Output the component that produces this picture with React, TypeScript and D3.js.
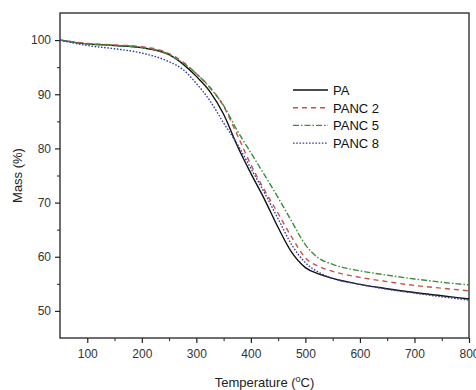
import React, { useEffect, useRef } from 'react'
import { select, scaleLinear, line, curveMonotoneX, axisLeft, axisBottom, range } from 'd3'

// temperatures (°C) sampled along the TGA curves
const temps = [50, 100, 150, 200, 250, 275, 300, 325, 350, 375, 400, 425, 450, 475, 500, 525, 550, 600, 650, 700, 750, 800]

const massPA = [100, 99.3, 99.0, 98.6, 97.3, 95.6, 93.3, 90.5, 86.3, 80.5, 75.4, 70.6, 65.4, 60.8, 58.0, 56.8, 56.0, 54.9, 54.1, 53.4, 52.8, 52.2]
const massPANC2 = [100, 99.4, 99.1, 98.8, 97.5, 96.0, 93.8, 91.3, 87.8, 82.5, 77.0, 72.3, 68.0, 63.6, 59.8, 58.2, 57.3, 56.2, 55.4, 54.7, 54.2, 53.7]
const massPANC5 = [100, 99.3, 99.0, 98.6, 97.3, 95.8, 93.8, 91.2, 87.9, 83.3, 79.2, 75.1, 70.9, 66.5, 62.2, 59.7, 58.6, 57.4, 56.6, 55.9, 55.3, 54.8]
const massPANC8 = [100, 99.0, 98.4, 97.6, 96.0, 94.6, 92.0, 88.8, 84.7, 80.8, 76.3, 71.8, 67.0, 62.2, 58.9, 57.1, 56.0, 54.9, 54.0, 53.3, 52.6, 52.0]

const seriesNames = ['PA', 'PANC 2', 'PANC 5', 'PANC 8']
const seriesValues = [massPA, massPANC2, massPANC5, massPANC8]

const xTicks = [100, 200, 300, 400, 500, 600, 700, 800]
const yTicks = [50, 60, 70, 80, 90, 100]

const styles = [
    { color: '#111111', dash: null },
    { color: '#c8504e', dash: '5,4' },
    { color: '#3c8c3c', dash: '6,2,1.5,2' },
    { color: '#3a3f9e', dash: '1.6,1.6' },
]

const W = 476
const H = 390
const margin = { top: 13, right: 7, bottom: 52, left: 60 }

const App = () => {
    const svgRef = useRef<SVGSVGElement>(null)

    useEffect(() => {
        const svg = select(svgRef.current)
        svg.selectAll('*').remove()

        const x0 = margin.left
        const x1 = W - margin.right
        const y0 = H - margin.bottom
        const y1 = margin.top

        const xScale = scaleLinear().domain([50, 800]).range([x0, x1])
        const yScale = scaleLinear().domain([45, 105]).range([y0, y1])

        const tickFont = '12px "Liberation Sans", Arial, sans-serif'

        // minor ticks
        svg.append('g')
            .attr('transform', `translate(0, ${y0})`)
            .call(axisBottom(xScale).tickValues(range(150, 800, 100)).tickSize(3).tickFormat(() => ''))
            .call(g => g.select('.domain').remove())
            .selectAll('line').attr('stroke', '#222')
        svg.append('g')
            .attr('transform', `translate(${x0}, 0)`)
            .call(axisLeft(yScale).tickValues(range(55, 100, 10)).tickSize(3).tickFormat(() => ''))
            .call(g => g.select('.domain').remove())
            .selectAll('line').attr('stroke', '#222')

        // major ticks
        const xAxisG = svg.append('g')
            .attr('transform', `translate(0, ${y0})`)
            .call(axisBottom(xScale).tickValues(xTicks).tickSize(5).tickPadding(6))
        xAxisG.select('.domain').remove()
        xAxisG.selectAll('line').attr('stroke', '#222').attr('stroke-width', 1.2)
        xAxisG.selectAll('text').style('font', tickFont).attr('fill', '#333')

        const yAxisG = svg.append('g')
            .attr('transform', `translate(${x0}, 0)`)
            .call(axisLeft(yScale).tickValues(yTicks).tickSize(5).tickPadding(4))
        yAxisG.select('.domain').remove()
        yAxisG.selectAll('line').attr('stroke', '#222').attr('stroke-width', 1.2)
        yAxisG.selectAll('text').style('font', tickFont).attr('fill', '#333')

        // frame
        svg.append('rect')
            .attr('x', x0).attr('y', y1)
            .attr('width', x1 - x0).attr('height', y0 - y1)
            .attr('fill', 'none').attr('stroke', '#222').attr('stroke-width', 1.3)

        const lineGen = line<number>()
            .x((d, i) => xScale(temps[i]))
            .y(d => yScale(d))
            .curve(curveMonotoneX)

        svg.append('g')
            .selectAll('path')
            .data(seriesValues)
            .join('path')
            .attr('d', d => lineGen(d))
            .attr('fill', 'none')
            .attr('stroke', (d, i) => styles[i].color)
            .attr('stroke-width', 1.4)
            .attr('stroke-dasharray', (d, i) => styles[i].dash)

        // legend
        const legend = svg.append('g').attr('transform', 'translate(293, 90)')
        seriesNames.forEach((name, i) => {
            const row = legend.append('g').attr('transform', `translate(0, ${i * 17.7})`)
            row.append('line')
                .attr('x1', 0).attr('x2', 35).attr('y1', 0).attr('y2', 0)
                .attr('stroke', styles[i].color)
                .attr('stroke-width', 1.4)
                .attr('stroke-dasharray', styles[i].dash)
            row.append('text')
                .attr('x', 40).attr('y', 5)
                .style('font', '13px "Liberation Sans", Arial, sans-serif')
                .attr('fill', '#111')
                .text(name)
        })

        // axis titles
        svg.append('text')
            .attr('transform', `translate(22, ${(y0 + y1) / 2}) rotate(-90)`)
            .attr('text-anchor', 'middle')
            .style('font', '13px "Liberation Sans", Arial, sans-serif')
            .attr('fill', '#222')
            .text('Mass (%)')

        const xt = svg.append('text')
            .attr('x', (x0 + x1) / 2)
            .attr('y', 387)
            .attr('text-anchor', 'middle')
            .style('font', '13px "Liberation Sans", Arial, sans-serif')
            .attr('fill', '#222')
        xt.append('tspan').text('Temperature (')
        xt.append('tspan').attr('dy', -5).style('font-size', '9px').text('o')
        xt.append('tspan').attr('dy', 5).text('C)')
    }, [])

    return (
        <svg
            ref={svgRef}
            width={W}
            height={H}
            style={{ position: 'absolute', left: 0, top: 0, background: '#fff' }}
        />
    )
}

export default App
